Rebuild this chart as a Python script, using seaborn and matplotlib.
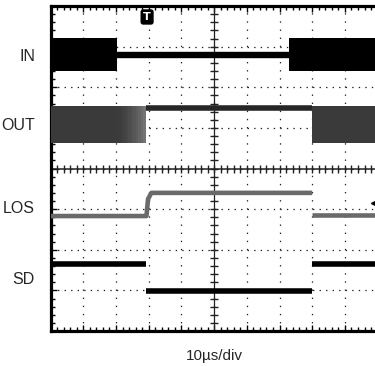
import numpy as np
import pandas as pd
import seaborn as sns
import matplotlib.pyplot as plt
from matplotlib.ticker import MultipleLocator

sns.set_style('white')
plt.rcParams['font.family'] = ['Liberation Sans Narrow', 'Liberation Sans', 'DejaVu Sans']

# 通道标签 (纵向位置, 单位: 格)
channels = ['IN', 'OUT', 'LOS', 'SD']
label_y = [6.76, 5.05, 3.02, 1.27]
time_label = '10µs/div'

# IN: 噪声带 + 中间的直线
in_band_x = [(0, 2.02), (7.29, 10)]
in_band_lo, in_band_hi = 6.39, 7.21
in_line_t = [2.02, 7.29]
in_line_v = [6.80, 6.80]

# OUT: 灰色噪声带 + 高电平直线
out_band_x = [(0, 2.0), (8.0, 10)]
out_fade_x = (2.0, 2.91)
out_band_lo, out_band_hi = 4.64, 5.54
out_line_t = [2.91, 8.0]
out_line_v = [5.49, 5.49]

# LOS (每段单独画, 跳变处不连线)
los_seg = [0, 0, 0, 0, 0, 1, 1]
los_t = [0, 2.93, 2.98, 3.08, 8.0, 8.0, 10]
los_v = [2.83, 2.83, 3.25, 3.40, 3.40, 2.85, 2.85]

# SD
sd_seg = [0, 0, 1, 1, 2, 2]
sd_t = [0, 2.92, 2.92, 8.0, 8.0, 10]
sd_v = [1.64, 1.64, 0.98, 0.98, 1.65, 1.65]

trig_t, trig_top, trig_level = 2.95, 7.73, 3.15

los_df = pd.DataFrame({'seg': los_seg, 't': los_t, 'v': los_v})
sd_df = pd.DataFrame({'seg': sd_seg, 't': sd_t, 'v': sd_v})

fig = plt.figure(figsize=(3.75, 3.66), dpi=100)
ax = fig.add_axes([0.135, 0.0956, 0.872, 0.888])
ax.set_xlim(0, 10)
ax.set_ylim(0, 8)

# 示波器网格
ax.xaxis.set_major_locator(MultipleLocator(1))
ax.yaxis.set_major_locator(MultipleLocator(1))
ax.xaxis.set_minor_locator(MultipleLocator(0.2))
ax.yaxis.set_minor_locator(MultipleLocator(0.2))
ax.xaxis.grid(True, which='major', ls=(0, (1.1, 5.4)), lw=0.9, color='#222222')
ax.yaxis.grid(True, which='major', ls=(0, (1.1, 4.13)), lw=0.9, color='#222222')
ax.tick_params(which='both', direction='in', top=True, bottom=True, left=True, right=False,
               labelbottom=False, labelleft=False, color='black')
ax.tick_params(which='major', length=4, width=1)
ax.tick_params(which='minor', length=3, width=1)
for s in ['left', 'top', 'bottom']:
    ax.spines[s].set_linewidth(2.3)
    ax.spines[s].set_color('black')
ax.spines['right'].set_visible(False)

# 中心十字线和刻度
ax.axhline(4, color='#222222', lw=1.1, zorder=1)
ax.axvline(5, color='#222222', lw=0.9, zorder=1)
hx = np.arange(0, 10.01, 0.2)
vy = np.arange(0, 8.01, 0.2)
ax.plot(hx, np.full_like(hx, 4), ls='none', marker='|', ms=6, mew=1, color='#222222', zorder=1)
ax.plot(np.full_like(vy, 5), vy, ls='none', marker='_', ms=6, mew=1, color='#222222', zorder=1)

# IN
for a, b in in_band_x:
    ax.fill_between([a, b], in_band_lo, in_band_hi, color='black', lw=0, zorder=3)
sns.lineplot(x=in_line_t, y=in_line_v, ax=ax, color='black', lw=4.6, estimator=None, sort=False,
             solid_capstyle='butt', zorder=3)

# OUT
for a, b in out_band_x:
    ax.fill_between([a, b], out_band_lo, out_band_hi, color='#3a3a3a', lw=0, zorder=3)
n = 12
edges = np.linspace(out_fade_x[0], out_fade_x[1], n + 1)
for i in range(n):
    g = 0.23 + 0.22 * (i / (n - 1)) ** 1.5
    ax.fill_between([edges[i], edges[i + 1]], out_band_lo, out_band_hi, color=(g, g, g), lw=0, zorder=3)
sns.lineplot(x=out_line_t, y=out_line_v, ax=ax, color='#262626', lw=4.0, estimator=None, sort=False,
             solid_capstyle='butt', zorder=3)

# LOS / SD
sns.lineplot(data=los_df, x='t', y='v', units='seg', ax=ax, color='#6a6a6a', lw=3.3,
             estimator=None, sort=False, solid_capstyle='butt', zorder=3)
sns.lineplot(data=sd_df, x='t', y='v', units='seg', ax=ax, color='black', lw=4.0,
             estimator=None, sort=False, solid_capstyle='butt', zorder=3)

# 触发标记
ax.text(trig_t, trig_top, 'T', color='white', fontsize=8, fontweight='bold', ha='center', va='center',
        family='DejaVu Sans', bbox=dict(boxstyle='round,pad=0.18', fc='black', ec='black'), zorder=5)
ax.plot(9.93, trig_level, marker='<', ms=6, color='black', clip_on=False, zorder=5)

# 标签
for name, y in zip(channels, label_y):
    ax.text(-0.048, y, name, transform=ax.get_yaxis_transform(), ha='right', va='center', fontsize=11.5)
fig.text(0.573, 0.0164, time_label, ha='center', va='baseline', fontsize=11)

ax.set_xlabel('')
ax.set_ylabel('')
fig.savefig('out.png', dpi=100)
